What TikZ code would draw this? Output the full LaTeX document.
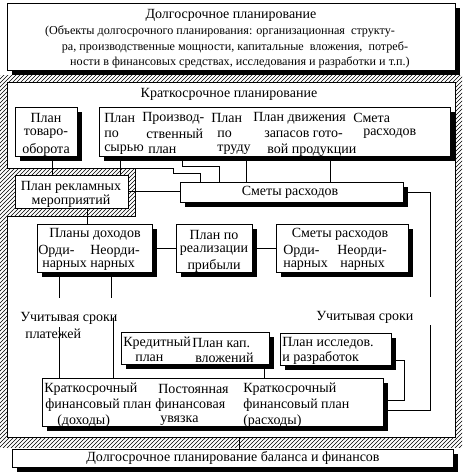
\documentclass[tikz,border=0pt]{standalone}
\usepackage{fontspec}
\setmainfont{Liberation Serif}
\usetikzlibrary{fit,patterns,shadows}

\tikzset{
  plainbox/.style={draw, fill=white, inner sep=0pt, line width=0.75pt},
  shadebox/.style={plainbox, drop shadow={shadow xshift=3.5pt, shadow yshift=-3.5pt, fill=black, opacity=1}},
  txt/.style={inner sep=0pt, anchor=west, font=\fontsize{10.5}{12}\selectfont},
  ctxt/.style={txt, anchor=center},
  smalltxt/.style={ctxt, font=\fontsize{9.1}{11}\selectfont},
  link/.style={draw, line width=0.75pt}
}

\begin{document}
\begin{tikzpicture}[x=0.75pt, y=-0.75pt]
\useasboundingbox (0,0) rectangle (464,475);
\fill[pattern=north east lines] (0,75) rectangle (462,447);
\draw[fill=white, line width=0.75pt] (7,82) -- (7,168) -- (135,168) -- (135,216) -- (7,216) -- (7,437) -- (455,437) -- (455,82) -- cycle;

\node[shadebox, fit={(7,3) (455,70)}] (dolg) {};
\node[ctxt] (dolg1) at (231,15) {Долгосрочное планирование};
\node[smalltxt] (dolg2) at (220,31) {(Объекты долгосрочного планирования: организационная\ \ структу-};
\node[smalltxt] (dolg3) at (235,47) {ра, производственные мощности, капитальные\ \ вложения,\ \ потреб-};
\node[smalltxt] (dolg4) at (240,62) {ности в финансовых средствах, исследования и разработки и т.п.)};

\node[ctxt] (krat) at (229,94) {Краткосрочное планирование};

\node[shadebox, fit={(15,107) (77,156)}] (tov) {};
\node[ctxt] (tov1) at (46,118) {План};
\node[ctxt] (tov2) at (46,134) {товаро-};
\node[ctxt] (tov3) at (46,150) {оборота};

\node[shadebox, fit={(99,107) (450,156)}] (ryad) {};
\begin{scope}
\clip (ryad.north west) rectangle (ryad.south east);
\node[txt] (syr1) at (104,118) {План};
\node[txt] (syr2) at (104,134) {по};
\node[txt] (syr3) at (104,150) {сырью};
\node[txt] (pr1) at (142,118) {Производ-};
\node[txt] (pr2) at (146,134) {ственный};
\node[txt] (pr3) at (148,150) {план};
\node[txt] (tr1) at (211,118) {План};
\node[txt] (tr2) at (217,134) {по};
\node[txt] (tr3) at (217,150) {труду};
\node[txt] (zap1) at (253,118) {План движения};
\node[txt] (zap2) at (264,134) {запасов гото-};
\node[txt] (zap3) at (267,150) {вой продукции};
\node[txt] (sm1) at (353,118) {Смета};
\node[txt] (sm2) at (363,134) {расходов};
\end{scope}

\node[plainbox, fit={(15,175) (128,208)}] (rekl) {};
\node[ctxt] (rekl1) at (71,187) {План рекламных};
\node[ctxt] (rekl2) at (71,201) {мероприятий};

\node[shadebox, fit={(180,182) (403,202)}] (smety) {};
\node[ctxt] (smety1) at (290,192) {Сметы расходов};

\node[shadebox, fit={(37,224) (152,272)}] (dohody) {};
\begin{scope}
\clip (dohody.north west) rectangle (dohody.south east);
\node[ctxt] (doh1) at (95,234) {Планы доходов};
\node[txt] (doh2) at (38,251) {Орди-};
\node[txt] (doh3) at (90,251) {Неорди-};
\node[txt] (doh4) at (42,266) {нарных};
\node[txt] (doh5) at (90,266) {нарных};
\end{scope}

\node[shadebox, fit={(176,224) (252,272)}] (realiz) {};
\begin{scope}
\clip (realiz.north west) rectangle (realiz.south east);
\node[ctxt] (real1) at (214,235) {План по};
\node[ctxt] (real2) at (214,251) {реализации};
\node[ctxt] (real3) at (214,266) {прибыли};
\end{scope}

\node[shadebox, fit={(276,224) (408,272)}] (smety2) {};
\begin{scope}
\clip (smety2.north west) rectangle (smety2.south east);
\node[ctxt] (sr1) at (340,234) {Сметы расходов};
\node[txt] (sr2) at (283,251) {Орди-};
\node[txt] (sr3) at (337,251) {Неорди-};
\node[txt] (sr4) at (283,266) {нарных};
\node[txt] (sr5) at (340,266) {нарных};
\end{scope}

\node[txt] (srok1) at (20,318) {Учитывая сроки};
\node[txt] (srok2) at (25,334) {платежей};
\node[txt] (srok3) at (316,317) {Учитывая сроки};

\node[shadebox, fit={(121,332) (269,364)}] (kredit) {};
\begin{scope}
\clip (kredit.north west) rectangle (kredit.south east);
\node[txt] (kr1) at (123,343) {Кредитный};
\node[txt] (kr2) at (192,343) {План кап.};
\node[txt] (kr3) at (135,358) {план};
\node[txt] (kr4) at (195,358) {вложений};
\end{scope}

\node[shadebox, fit={(280,333) (391,365)}] (issled) {};
\begin{scope}
\clip (issled.north west) rectangle (issled.south east);
\node[txt] (is1) at (282,343) {План исследов.};
\node[txt] (is2) at (282,358) {и разработок};
\end{scope}

\node[shadebox, fit={(42,378) (383,426)}] (finplan) {};
\begin{scope}
\clip (finplan.north west) rectangle (finplan.south east);
\node[txt] (fd1) at (44,389) {Краткосрочный};
\node[txt] (fd2) at (45,405) {финансовый план};
\node[txt] (fd3) at (57,421) {(доходы)};
\node[txt] (uv1) at (158,389) {Постоянная};
\node[txt] (uv2) at (155,405) {финансовая};
\node[txt] (uv3) at (160,421) {увязка};
\node[txt] (fr1) at (243,389) {Краткосрочный};
\node[txt] (fr2) at (243,405) {финансовый план};
\node[txt] (fr3) at (243,421) {(расходы)};
\end{scope}

\node[shadebox, fit={(12,449) (453,467)}] (nizh) {};
\node[ctxt] (nizh1) at (233,458) {Долгосрочное планирование баланса и финансов};

\coordinate (ugol) at (135,168);
\coordinate (razryv1) at (430,297);
\coordinate (razryv2) at (430,325);
\coordinate (lev1) at (59,298);
\coordinate (lev2) at (59,327);
\coordinate (prav1) at (111,298);
\coordinate (prav2) at (113,318);
\coordinate (ramka) at (239,437);

\draw[link] (52,0 |- tov.south) -- (52,0 |- rekl.north);
\draw[link] (120,0 |- ryad.south) -- (120,0 |- rekl.north);
\draw[link] (ugol) -- (173,168) -- (173,173) -- (200,173) -- (200,0 |- smety.north);
\draw[link] (182,0 |- ryad.south) -- (182,166) -- (219,166) -- (219,0 |- smety.north);
\draw[link] (246,0 |- ryad.south) -- (246,0 |- smety.north);
\draw[link] (330,0 |- ryad.south) -- (330,0 |- smety.north);
\draw[link] (rekl.east) -- (rekl.east -| smety.west);
\draw[link] (smety.east) -| (razryv1);
\draw[link] (razryv2) |- (finplan.east |- 0,410);
\draw[link] (87,0 |- rekl.south) -- (87,0 |- dohody.north);
\draw[link] (dohody.east) -- (realiz.west);
\draw[link] (realiz.east) -- (smety2.west);
\draw[link] (59,0 |- dohody.south) -- (lev1);
\draw[link] (lev2) -- (59,0 |- finplan.north);
\draw[link] (111,0 |- dohody.south) -- (prav1);
\draw[link] (prav2) -- (113,0 |- finplan.north);
\draw[link] (264,0 |- kredit.south) -- (264,0 |- finplan.north);
\draw[link] (issled.east |- 0,360) -- (404,360) -- (404,400) -- (finplan.east |- 0,400);
\draw[link] (ramka) -- (239,0 |- nizh.north);
\end{tikzpicture}
\end{document}
